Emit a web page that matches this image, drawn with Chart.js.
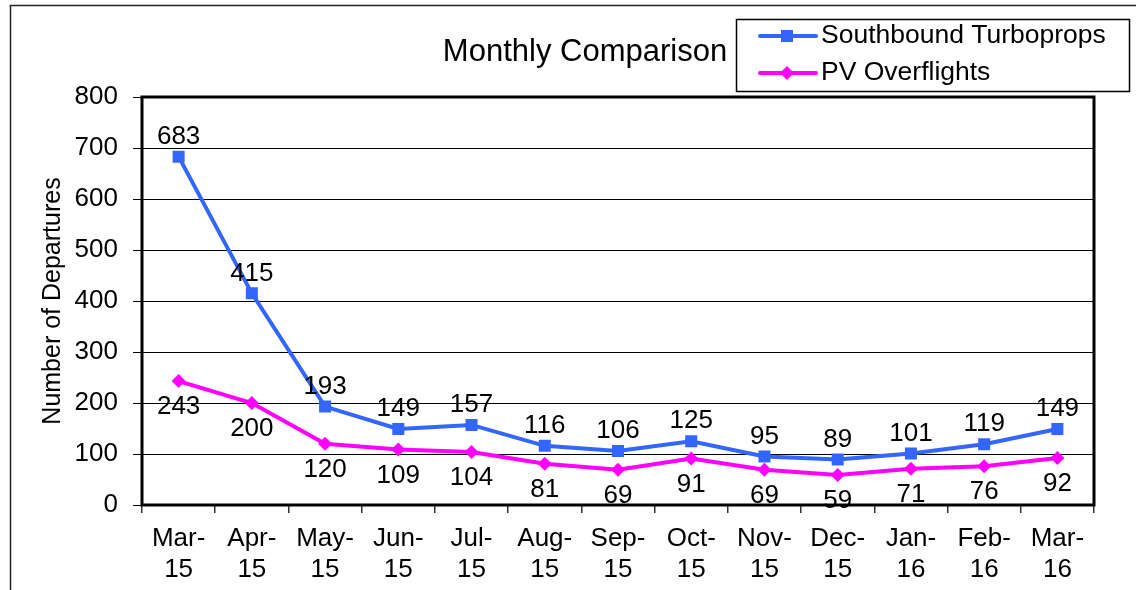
<!DOCTYPE html>
<html>
<head>
<meta charset="utf-8">
<script src="https://cdn.jsdelivr.net/npm/chart.js@4.4.1/dist/chart.umd.min.js"></script>
<style>
  html, body { margin: 0; padding: 0; background: #fff; }
  #wrap { width: 1136px; height: 590px; }
</style>
</head>
<body>
<div id="wrap"><canvas id="myChart" width="1136" height="590"></canvas></div>
<script>
const months = [["Mar-", "15"], ["Apr-", "15"], ["May-", "15"], ["Jun-", "15"], ["Jul-", "15"],
    ["Aug-", "15"], ["Sep-", "15"], ["Oct-", "15"], ["Nov-", "15"], ["Dec-", "15"],
    ["Jan-", "16"], ["Feb-", "16"], ["Mar-", "16"]];
const turboprops = [683, 415, 193, 149, 157, 116, 106, 125, 95, 89, 101, 119, 149];
const overflights = [243, 200, 120, 109, 104, 81, 69, 91, 69, 59, 71, 76, 92];
const seriesNames = ["Southbound Turboprops", "PV Overflights"];
const chartTitle = "Monthly Comparison";
const yTitle = "Number of Departures";
const yMin = 0, yMax = 800, yStep = 100;

const FONT = "'Liberation Sans', Arial, sans-serif";
Chart.defaults.font.family = FONT;
Chart.defaults.color = "#000";

// title, legend, frame and value labels drawn by hand
const decorations = {
    id: "decorations",
    beforeDraw(chart) {
        const ctx = chart.ctx;
        ctx.save();
        ctx.fillStyle = "#fff";
        ctx.fillRect(0, 0, chart.width, chart.height);
        ctx.restore();
    },
    beforeDatasetsDraw(chart) {
        const ctx = chart.ctx;
        const a = chart.chartArea;
        ctx.save();
        ctx.strokeStyle = "#000";
        ctx.lineWidth = 3;
        ctx.strokeRect(a.left, a.top, a.right - a.left, a.bottom - a.top);
        ctx.restore();
    },
    afterDatasetsDraw(chart) {
        const ctx = chart.ctx;
        ctx.save();
        ctx.font = "26px " + FONT;
        ctx.fillStyle = "#000";
        ctx.textAlign = "center";
        ctx.textBaseline = "middle";
        chart.data.datasets.forEach((ds, i) => {
            const meta = chart.getDatasetMeta(i);
            meta.data.forEach((pt, j) => {
                const dy = i === 0 ? -20 : 26;
                ctx.fillText(String(ds.data[j]), pt.x, pt.y + dy);
            });
        });
        ctx.restore();
    },
    afterDraw(chart) {
        const ctx = chart.ctx;
        ctx.save();
        // outer frame
        ctx.strokeStyle = "#222";
        ctx.lineWidth = 1.5;
        ctx.beginPath();
        ctx.moveTo(10.5, chart.height);
        ctx.lineTo(10.5, 5.5);
        ctx.lineTo(chart.width, 5.5);
        ctx.stroke();

        // title
        ctx.fillStyle = "#000";
        ctx.font = "31px " + FONT;
        ctx.textAlign = "center";
        ctx.textBaseline = "middle";
        ctx.fillText(chartTitle, 585, 52);

        // legend box
        ctx.fillStyle = "#fff";
        ctx.fillRect(736, 19, 394, 73);
        ctx.strokeStyle = "#000";
        ctx.lineWidth = 1.5;
        ctx.strokeRect(736.5, 19.5, 393, 72);
        const rows = [36, 73];
        chart.data.datasets.forEach((ds, i) => {
            const y = rows[i];
            ctx.strokeStyle = ds.borderColor;
            ctx.lineWidth = 4;
            ctx.lineCap = "round";
            ctx.beginPath();
            ctx.moveTo(760, y);
            ctx.lineTo(816, y);
            ctx.stroke();
            ctx.fillStyle = ds.borderColor;
            if (ds.pointStyle === "rect") {
                ctx.fillRect(781, y - 6, 12, 12);
            } else {
                ctx.beginPath();
                ctx.moveTo(787, y - 7);
                ctx.lineTo(794, y);
                ctx.lineTo(787, y + 7);
                ctx.lineTo(780, y);
                ctx.closePath();
                ctx.fill();
            }
            ctx.fillStyle = "#000";
            ctx.font = "26.5px " + FONT;
            ctx.textAlign = "left";
            ctx.fillText(ds.label, 821, y);
        });
        ctx.restore();
    }
};

const ctx = document.getElementById("myChart").getContext("2d");
const myChart = new Chart(ctx, {
    type: "line",
    data: {
        labels: months,
        datasets: [{
            label: seriesNames[0],
            data: turboprops,
            borderColor: "#3366FF",
            backgroundColor: "#3366FF",
            borderWidth: 4,
            pointStyle: "rect",
            pointRadius: 8.5,
            pointBorderWidth: 0,
            tension: 0
        }, {
            label: seriesNames[1],
            data: overflights,
            borderColor: "#FF00FF",
            backgroundColor: "#FF00FF",
            borderWidth: 4,
            pointStyle: "rectRot",
            pointRadius: 7,
            pointBorderWidth: 0,
            tension: 0
        }]
    },
    options: {
        responsive: false,
        animation: false,
        devicePixelRatio: 1,
        layout: { padding: { left: 0, top: 97, right: 42, bottom: 0 } },
        plugins: {
            legend: { display: false },
            title: { display: false },
            tooltip: { enabled: false }
        },
        scales: {
            x: {
                offset: true,
                grid: { offset: true, drawOnChartArea: false, drawTicks: true, tickLength: 8, color: "#333", lineWidth: 1.5 },
                border: { display: false },
                ticks: { font: { size: 26, lineHeight: 1.2 }, padding: 10, maxRotation: 0, autoSkip: false },
                afterFit(scale) { scale.height = 85; }
            },
            y: {
                min: yMin,
                max: yMax,
                ticks: { stepSize: yStep, font: { size: 26 }, padding: 15 },
                grid: { color: "#000", lineWidth: 1, tickLength: 9 },
                border: { display: false },
                title: { display: true, text: yTitle, font: { size: 25 }, padding: { top: 38, bottom: 0 } },
                afterFit(scale) { scale.width = 142; }
            }
        }
    },
    plugins: [decorations]
});
</script>
</body>
</html>
